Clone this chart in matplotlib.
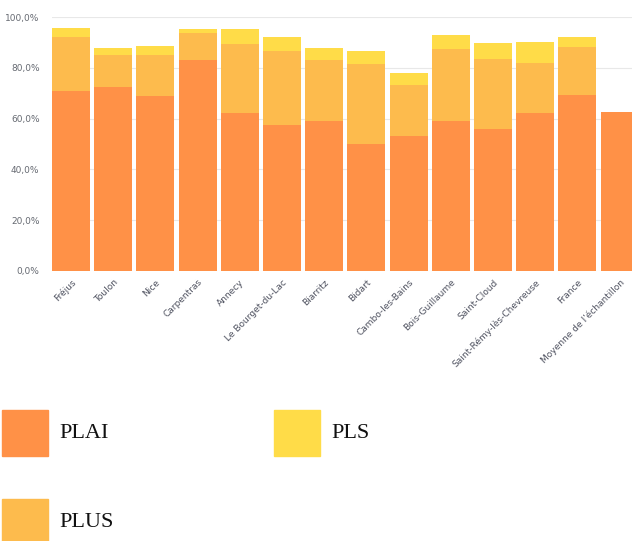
import matplotlib
matplotlib.use("Agg")
import matplotlib.pyplot as plt
from matplotlib.patches import Rectangle

communes = ["Fréjus", "Toulon", "Nice", "Carpentras", "Annecy", "Le Bourget-du-Lac",
            "Biarritz", "Bidart", "Cambo-les-Bains", "Bois-Guillaume", "Saint-Cloud",
            "Saint-Rémy-lès-Chevreuse", "France", "Moyenne de l'échantillon"]
plai = [70.8, 72.4, 68.9, 83.1, 62.1, 57.4, 59.1, 50.0, 53.2, 59.0, 55.8, 62.4, 69.5, 62.6]
plus = [21.3, 12.8, 16.3, 10.8, 27.4, 29.4, 23.9, 31.6, 20.0, 28.6, 27.6, 19.7, 18.9, 0.0]
pls = [3.7, 2.7, 3.5, 1.4, 5.8, 5.3, 4.9, 5.2, 4.7, 5.3, 6.3, 8.2, 3.7, 0.0]
yticks = [0, 20, 40, 60, 80, 100]

c_plai = "#ff9147"
c_plus = "#fdbb4d"
c_pls = "#ffdc48"

fig = plt.figure(figsize=(6.32, 5.41), dpi=100)
ax = fig.add_axes([52 / 632, 270.3 / 541, 590.8 / 632, 253.4 / 541])

x = list(range(len(communes)))
bottom2 = [a + b for a, b in zip(plai, plus)]
ax.bar(x, plai, width=0.9, color=c_plai, zorder=2)
ax.bar(x, plus, width=0.9, bottom=plai, color=c_plus, zorder=2)
ax.bar(x, pls, width=0.9, bottom=bottom2, color=c_pls, zorder=2)

ax.set_xlim(-0.45, 13.55)
ax.set_ylim(0, 100)
ax.set_yticks(yticks)
ax.set_yticklabels([f"{v},0%" for v in yticks], fontsize=6.5, color="#666a72")
ax.yaxis.grid(True, color="#e8e8e8", linewidth=0.8, zorder=0)
ax.set_axisbelow(True)
for s in ax.spines.values():
    s.set_visible(False)
ax.tick_params(axis="both", length=0)
ax.tick_params(axis="y", pad=9)

ax.set_xticks(x)
ax.set_xticklabels(communes, rotation=45, ha="right", rotation_mode="anchor",
                   fontsize=6.5, color="#4f5260")
ax.tick_params(axis="x", pad=5)

# legend drawn as plain squares and serif labels
legend = [("PLAI", c_plai, 2, 410), ("PLS", c_pls, 274, 410), ("PLUS", c_plus, 2, 499)]
for name, col, px, py in legend:
    fig.patches.append(Rectangle((px / 632, 1 - (py + 46) / 541), 46 / 632, 46 / 541,
                                 transform=fig.transFigure, color=col))
    fig.text((px + 57) / 632, 1 - (py + 28) / 541, name, fontsize=16,
             family="Liberation Serif", color="#111111", va="baseline")

fig.savefig("out.png", dpi=100)
